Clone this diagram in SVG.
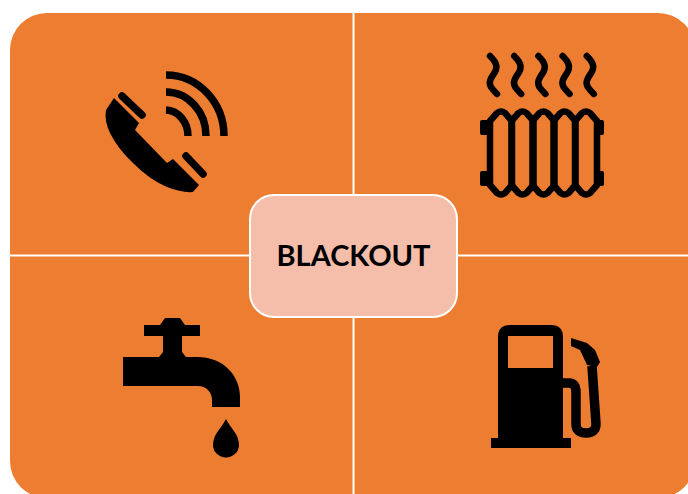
<svg xmlns="http://www.w3.org/2000/svg" width="688" height="494" viewBox="0 0 688 494">
<style>
.ic{fill:#000}
.dv{stroke:#fff;stroke-width:2;fill:none}
.bar{fill:none;stroke:#000;stroke-width:7.500;stroke-linecap:round}
.arc{fill:none;stroke:#000;stroke-width:7.500}
.wave{fill:none;stroke:#000;stroke-width:6.500;stroke-linecap:round}
.col{fill:none;stroke:#000;stroke-width:6.500;stroke-linejoin:round}
</style>
<defs>
<path id="w" d="M490 56C496 62 498 66 495 72C491 78 488 82 491 87C493 90 495 92 497 94"/>
<path id="c" d="M490 121L497 113Q501 110 505 113L512 121V185L505 193Q501 196 497 193L490 185Z"/>
</defs>
<rect width="688" height="494" fill="#fff"/>
<rect id="panel" x="10" y="13" width="685" height="485" rx="37" fill="#ED7D31"/>
<g id="connectors">
<path class="dv" d="M353.500 13V195M353.500 317V494M10 255.500H250M457 255.500H688"/>
</g>
<g id="phone">
<path class="ic" d="M114 98L139 123L135 130L167 163L173 159L199 185L193 192Q182 193 167 187Q150 180 133 163Q118 149 110 133Q104 120 106 110Z"/>
<path class="bar" d="M122 96L142 115M186 156L203 174"/>
<path class="arc" d="M166 110A23 26 0 0 1 188 136M166 92A40 44 0 0 1 206 136M166 75A58 61 0 0 1 224 136"/>
</g>
<g id="radiator">
<use href="#w" class="wave"/>
<use href="#w" x="24.200" class="wave"/>
<use href="#w" x="48.400" class="wave"/>
<use href="#w" x="72.600" class="wave"/>
<use href="#w" x="96.800" class="wave"/>
<use href="#c" class="col"/>
<use href="#c" x="21.500" class="col"/>
<use href="#c" x="42.500" class="col"/>
<use href="#c" x="63.500" class="col"/>
<use href="#c" x="85" class="col"/>
<rect class="ic" x="480" y="120" width="11" height="15" rx="2"/>
<rect class="ic" x="480" y="171" width="11" height="15" rx="2"/>
<rect class="ic" x="597" y="120" width="7" height="15" rx="2"/>
<rect class="ic" x="597" y="171" width="7" height="15" rx="2"/>
</g>
<g id="tap">
<path class="ic" d="M144 325H160L165 318H180L185 325H200V336H182V352L186 357H197C224 357 240 376 240 397V407H212V400C212 392 206 386 198 386H123V357H159L163 352V336H144Z"/>
<path class="ic" d="M226 419C231 429 239 434 239 445A13 12.500 0 0 1 213 445C213 434 221 429 226 419Z"/>
</g>
<g id="pump">
<path class="ic" fill-rule="evenodd" d="M510 325H551Q563 325 563 337V438H571V448H491V438H498V337Q498 325 510 325ZM508 336V368H553V336Z"/>
<path d="M563 383H569Q576 383 576 392V424Q576 433 586 433Q596 433 596 424L592 366" fill="none" stroke="#000" stroke-width="9.500"/>
<path class="ic" d="M571 338L571 346L580 350L587 365L597 367L600 362L595 350L587 343Z"/>
</g>
<g id="center">
<rect x="250" y="195" width="207" height="122" rx="24" fill="#F5BEAB" stroke="#fff" stroke-width="2"/>
<text x="353.500" y="266" text-anchor="middle" font-family="Lato, Open Sans, sans-serif" font-size="29" font-weight="700" fill="#000">BLACKOUT</text>
</g>
</svg>
